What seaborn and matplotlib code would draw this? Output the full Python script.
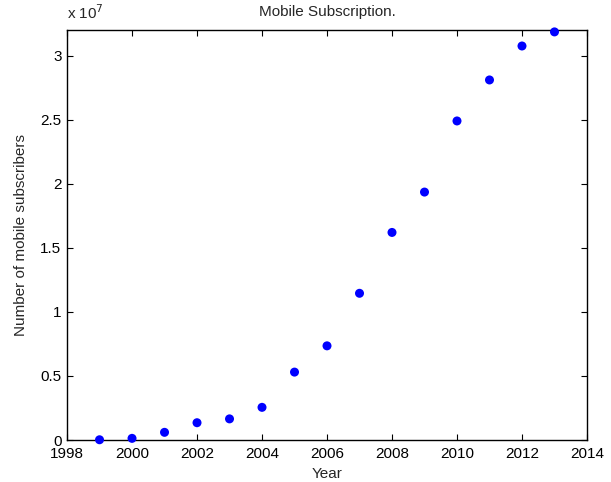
import matplotlib
matplotlib.use("Agg")
import matplotlib.pyplot as plt
import seaborn as sns
import pandas as pd

# data (subscribers)
years = [1999, 2000, 2001, 2002, 2003, 2004, 2005, 2006, 2007, 2008, 2009, 2010, 2011, 2012, 2013]
subscribers = [0.002e7, 0.013e7, 0.06e7, 0.135e7, 0.165e7, 0.255e7, 0.53e7, 0.735e7,
               1.145e7, 1.62e7, 1.935e7, 2.49e7, 2.81e7, 3.075e7, 3.185e7]
ytick_vals = [0, 0.5e7, 1e7, 1.5e7, 2e7, 2.5e7, 3e7]
ytick_labels = ["0", "0.5", "1", "1.5", "2", "2.5", "3"]

df = pd.DataFrame({"Year": years, "Subscribers": subscribers})

sns.set_style("ticks")
plt.rcParams["font.family"] = ["Liberation Sans", "DejaVu Sans"]

fig = plt.figure(figsize=(6.11, 4.82), dpi=100)
ax = fig.add_axes([0.1097, 0.0871, 0.8510, 0.8507])

sns.scatterplot(data=df, x="Year", y="Subscribers", ax=ax, color="#0000ff",
                edgecolor="none", s=42, clip_on=False, zorder=3)

ax.set_xlim(1998, 2014)
ax.set_ylim(0, 3.2e7)
ax.set_xticks(range(1998, 2015, 2))
ax.set_yticks(ytick_vals)
ax.set_yticklabels(ytick_labels)

for s in ax.spines.values():
    s.set_visible(True)
    s.set_linewidth(1.0)
    s.set_color("black")
ax.tick_params(direction="in", top=True, right=True, length=4, width=0.8,
               labelsize=11, colors="black")
ax.tick_params(axis="x", pad=5)
ax.tick_params(axis="y", pad=4)

ax.set_xlabel("Year", fontsize=11, labelpad=4)
ax.set_ylabel("Number of mobile subscribers", fontsize=11, labelpad=9)
ax.set_title("Mobile Subscription.", fontsize=11, pad=10)
ax.text(0.0, 1.02, r"x 10$^{7}$", transform=ax.transAxes, fontsize=11,
        ha="left", va="bottom")

fig.savefig("out.png", dpi=100)
